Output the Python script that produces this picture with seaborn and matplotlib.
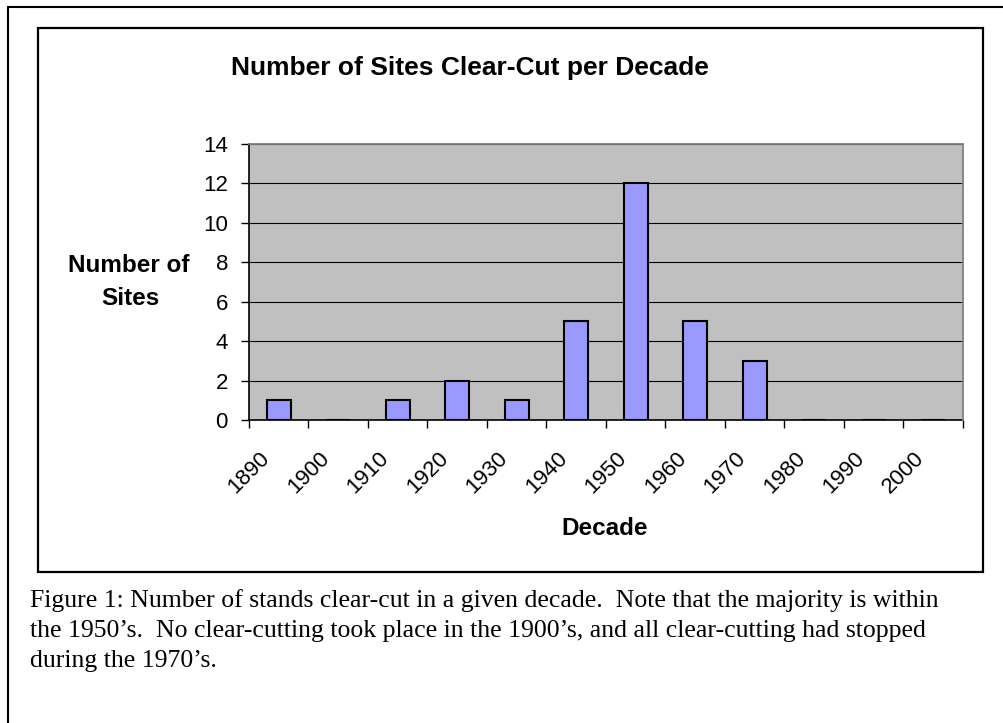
import numpy as np
import matplotlib
matplotlib.use("Agg")
import matplotlib.pyplot as plt
import matplotlib.transforms as mtransforms
from matplotlib.patches import Rectangle
from matplotlib.lines import Line2D
import seaborn as sns

# data
decades = ['1890', '1900', '1910', '1920', '1930', '1940',
           '1950', '1960', '1970', '1980', '1990', '2000']
sites = [1, 0, 1, 2, 1, 5, 12, 5, 3, 0, 0, 0]
y_ticks = [0, 2, 4, 6, 8, 10, 12, 14]

title = 'Number of Sites Clear-Cut per Decade'
caption = [
    'Figure 1: Number of stands clear-cut in a given decade.  Note that the majority is within',
    'the 1950\u2019s.  No clear-cutting took place in the 1900\u2019s, and all clear-cutting had stopped',
    'during the 1970\u2019s.',
]

W, H = 1004, 723
sns.set_theme(style="white")
plt.rcParams['font.family'] = ['Liberation Sans', 'DejaVu Sans']
plt.rcParams.update({'text.color': 'black', 'xtick.color': 'black',
                     'ytick.color': 'black', 'axes.labelcolor': 'black'})

fig = plt.figure(figsize=(W / 100, H / 100), dpi=100)
fig.patch.set_facecolor('white')


def fx(x):
    return x / W


def fy(y):
    return 1 - y / H


# plot area in pixels: left 249, right 963, top 144, bottom 420
ax = fig.add_axes([fx(249), fy(420), fx(963) - fx(249), fy(144) - fy(420)])
ax.set_facecolor('#C0C0C0')

sns.barplot(x=decades, y=sites, order=decades, color='#9999FF', saturation=1,
            edgecolor='black', linewidth=1.5, width=0.4, ax=ax, zorder=3)

ax.set_xlim(-0.5, len(decades) - 0.5)
ax.set_ylim(0, 14)
ax.set_yticks(y_ticks)
ax.set_yticklabels([str(t) for t in y_ticks], fontsize=16)
ax.set_xlabel('')
ax.set_ylabel('')

# grid lines
ax.set_axisbelow(True)
ax.yaxis.grid(True, color='black', linewidth=0.8)
ax.xaxis.grid(False)

for side in ['left', 'bottom']:
    ax.spines[side].set_color('black')
    ax.spines[side].set_linewidth(1.2)
for side in ['top', 'right']:
    ax.spines[side].set_color('#808080')
    ax.spines[side].set_linewidth(1.3)
    ax.spines[side].set_zorder(4)

ax.tick_params(axis='y', direction='out', length=5.8, width=1, color='black',
               pad=9.4, left=True, labelcolor='black')
# x ticks: marks between categories, labels at centres
ax.set_xticks(np.arange(-0.5, len(decades), 1), minor=True)
ax.tick_params(axis='x', which='minor', direction='out', length=5.8, width=1,
               color='black', bottom=True)
ax.tick_params(axis='x', which='major', length=0, pad=0, bottom=True)
ax.set_xticks(range(len(decades)))
ax.set_xticklabels(decades, fontsize=16, rotation=45, ha='right', va='center',
                   rotation_mode='anchor')
offset = mtransforms.ScaledTranslation(-12 / 100, -35 / 100, fig.dpi_scale_trans)
for lab in ax.get_xticklabels():
    lab.set_transform(lab.get_transform() + offset)

# texts
fig.text(fx(470), fy(75), title, ha='center', va='baseline',
         fontsize=19, fontweight='bold')
fig.text(fx(129), fy(272), 'Number of', ha='center', va='baseline',
         fontsize=17.5, fontweight='bold')
fig.text(fx(130), fy(305), 'Sites', ha='center', va='baseline',
         fontsize=17.5, fontweight='bold')
fig.text(fx(605), fy(535), 'Decade', ha='center', va='baseline',
         fontsize=17.5, fontweight='bold')

for i, line in enumerate(caption):
    fig.text(fx(30), fy(607 + 30 * i), line, ha='left', va='baseline',
             fontsize=18.5, family=['Liberation Serif', 'DejaVu Serif'])

# chart box and outer frame
fig.add_artist(Rectangle((fx(38), fy(572)), fx(983) - fx(38), fy(28) - fy(572),
                         transform=fig.transFigure, fill=False,
                         edgecolor='black', linewidth=1.6))
fig.add_artist(Line2D([fx(8), fx(8)], [fy(7), 0], transform=fig.transFigure,
                      color='black', linewidth=1.5))
fig.add_artist(Line2D([fx(8), 1], [fy(7), fy(7)], transform=fig.transFigure,
                      color='black', linewidth=1.5))

fig.savefig('out.png', dpi=100)
plt.close(fig)
